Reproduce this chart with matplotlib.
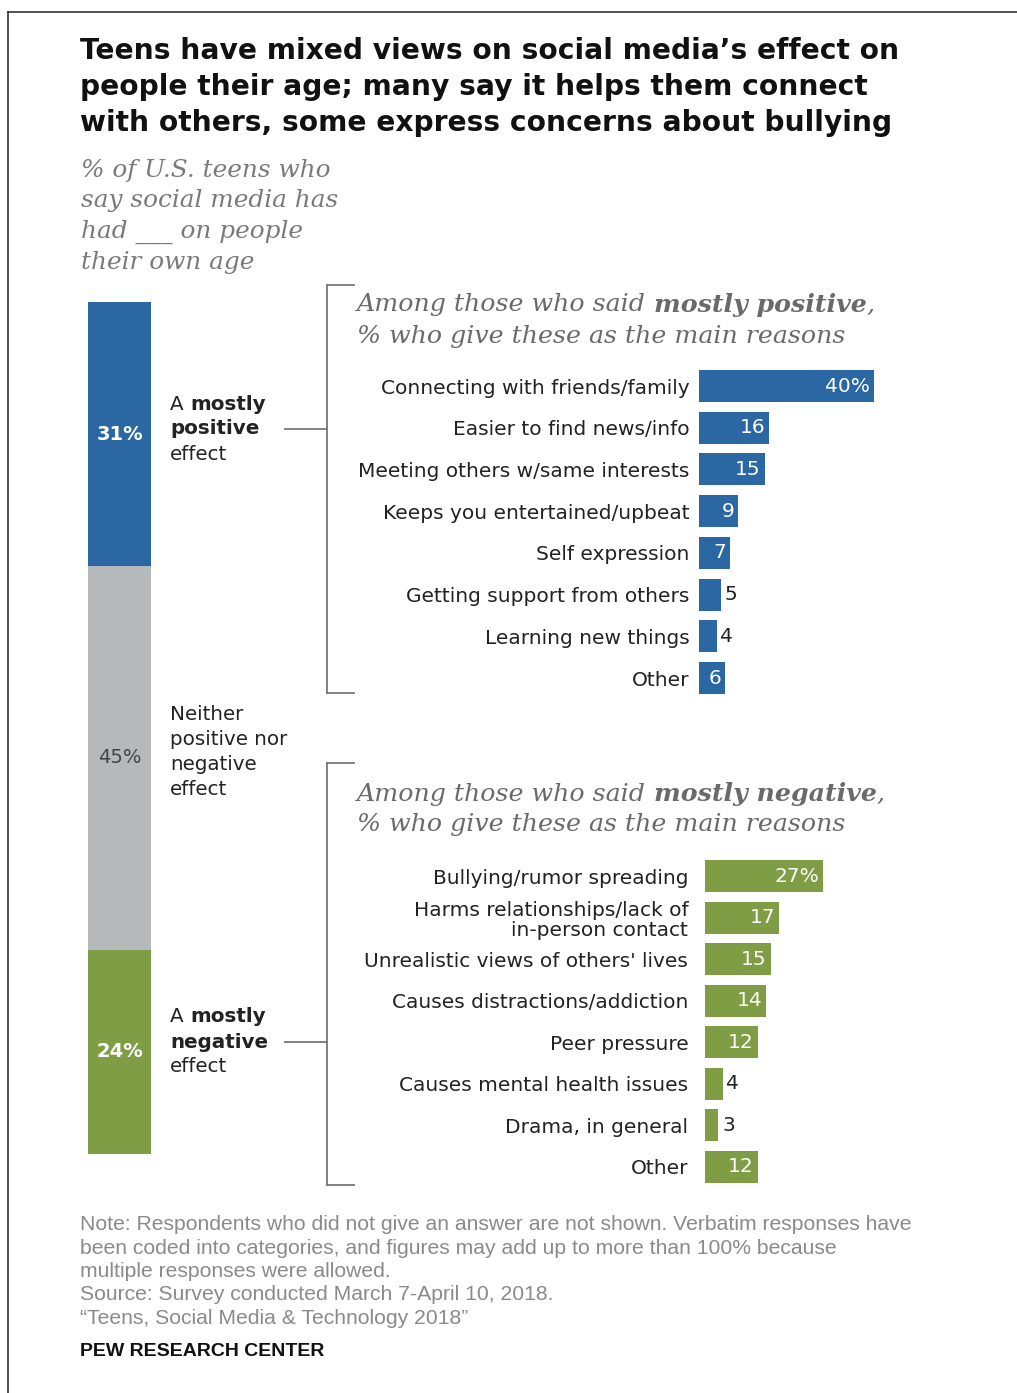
import matplotlib
matplotlib.use("Agg")
import matplotlib.pyplot as plt
from matplotlib.lines import Line2D

W, H = 1017, 1393
DPI = 100

# overall split of teens
effect_names = ["positive", "neither", "negative"]
effect_shares = [31, 45, 24]
effect_colors = ["#2a67a3", "#b6b9bb", "#7f9d44"]

# reasons among those saying mostly positive
pos_reasons = ["Connecting with friends/family", "Easier to find news/info",
               "Meeting others w/same interests", "Keeps you entertained/upbeat",
               "Self expression", "Getting support from others",
               "Learning new things", "Other"]
pos_values = [40, 16, 15, 9, 7, 5, 4, 6]

# reasons among those saying mostly negative
neg_reasons = ["Bullying/rumor spreading", "Harms relationships/lack of\nin-person contact",
               "Unrealistic views of others' lives", "Causes distractions/addiction",
               "Peer pressure", "Causes mental health issues",
               "Drama, in general", "Other"]
neg_values = [27, 17, 15, 14, 12, 4, 3, 12]

SANS = "DejaVu Sans"
SERIF = "DejaVu Serif"
NOTE_FONT = "Liberation Sans"
DARK = "#222222"

fig = plt.figure(figsize=(W / DPI, H / DPI), dpi=DPI)
fig.patch.set_facecolor("white")
renderer = fig.canvas.get_renderer()


def fx(x):
    return x / W


def fy(y):
    return 1 - y / H


def ptext(x, y, s, **kw):
    return fig.text(fx(x), fy(y), s, **kw)


def chain(x, y, parts, **kw):
    # draw consecutive pieces of text with different weights on one line
    for s, weight in parts:
        t = ptext(x, y, s, fontweight=weight, **kw)
        x += t.get_window_extent(renderer).width


def line(x0, y0, x1, y1, color="#777777", lw=1.3):
    fig.add_artist(Line2D([fx(x0), fx(x1)], [fy(y0), fy(y1)], color=color, lw=lw))


# frame
line(8, 12, W, 12, color="#333333", lw=1.2)
line(8, 12, 8, H, color="#333333", lw=1.2)

# title
title = ["Teens have mixed views on social media\u2019s effect on",
         "people their age; many say it helps them connect",
         "with others, some express concerns about bullying"]
for i, s in enumerate(title):
    ptext(80, 51 + 36 * i, s, family=SANS, fontweight="bold", fontsize=20.25,
          color="#111111", va="center")

subtitle = ["% of U.S. teens who", "say social media has",
            "had ___ on people", "their own age"]
for i, s in enumerate(subtitle):
    ptext(81, 170 + 31 * i, s, family=SERIF, style="italic", fontsize=17.8,
          color="#7a7a7a", va="center")

# stacked bar of the overall split
ax0 = fig.add_axes([fx(88), fy(1154), fx(151) - fx(88), fy(302) - fy(1154)])
bottom = 0
for name, v, c in zip(effect_names, effect_shares, effect_colors):
    ax0.bar(0, v, bottom=bottom, width=1, color=c, edgecolor="none")
    tc = "white" if name != "neither" else "#444444"
    fw = "bold" if name != "neither" else "normal"
    ax0.text(0, bottom + v / 2, f"{v}%", ha="center", va="center", color=tc,
             fontweight=fw, family=SANS, fontsize=14)
    bottom += v
ax0.set_xlim(-0.5, 0.5)
ax0.set_ylim(100, 0)
ax0.axis("off")

# labels beside the stacked bar
lab_kw = dict(family=SANS, fontsize=14.3, color=DARK, va="center")
chain(170, 404, [("A ", "normal"), ("mostly", "bold")], **lab_kw)
ptext(170, 429, "positive", fontweight="bold", **lab_kw)
ptext(170, 454, "effect", **lab_kw)
for i, s in enumerate(["Neither", "positive nor", "negative", "effect"]):
    ptext(170, 714 + 25.3 * i, s, **lab_kw)
chain(170, 1017, [("A ", "normal"), ("mostly", "bold")], **lab_kw)
ptext(170, 1042, "negative", fontweight="bold", **lab_kw)
ptext(170, 1067, "effect", **lab_kw)

# connectors and brackets
line(285, 429, 327, 429)
line(285, 1042, 327, 1042)
for top, bot in [(285, 693), (763, 1185)]:
    line(327, top, 327, bot)
    line(327, top, 354, top)
    line(327, bot, 354, bot)

head_kw = dict(family=SERIF, style="italic", fontsize=18.2, color="#6a6a6a", va="center")
chain(357, 305, [("Among those who said ", "normal"), ("mostly positive", "bold"),
                 (",", "normal")], **head_kw)
ptext(357, 336, "% who give these as the main reasons", **head_kw)
chain(357, 794, [("Among those who said ", "normal"), ("mostly negative", "bold"),
                 (",", "normal")], **head_kw)
ptext(357, 825, "% who give these as the main reasons", **head_kw)

PX_PER_UNIT = 175 / 40.0


def reason_panel(left, y_first, y_last, labels, values, color, pad):
    n = len(values)
    step = (y_last - y_first) / (n - 1)
    top = y_first - step / 2
    bot = y_last + step / 2
    width = 60 * PX_PER_UNIT
    ax = fig.add_axes([fx(left), fy(bot), width / W, (bot - top) / H])
    ax.barh(range(n), values, height=0.77, color=color, edgecolor="none")
    ax.set_xlim(0, 60)
    ax.set_ylim(n - 0.5, -0.5)
    ax.set_yticks(range(n))
    ax.set_yticklabels(labels, family=SANS, fontsize=14.5, color=DARK,
                       linespacing=1.08)
    ax.tick_params(axis="y", length=0, pad=pad)
    ax.set_xticks([])
    for sp in ax.spines.values():
        sp.set_visible(False)
    for i, v in enumerate(values):
        s = f"{v}%" if i == 0 else str(v)
        if v >= 6:
            ax.text(v - 0.9, i, s, ha="right", va="center", color="white",
                    family=SANS, fontsize=14.5)
        else:
            ax.text(v + 0.9, i, s, ha="left", va="center", color=DARK,
                    family=SANS, fontsize=14.5)
    return ax


reason_panel(699, 386, 678, pos_reasons, pos_values, effect_colors[0], 7)
reason_panel(705, 876, 1167, neg_reasons, neg_values, effect_colors[2], 12)

# notes
notes = ["Note: Respondents who did not give an answer are not shown. Verbatim responses have",
         "been coded into categories, and figures may add up to more than 100% because",
         "multiple responses were allowed.",
         "Source: Survey conducted March 7-April 10, 2018.",
         "\u201cTeens, Social Media & Technology 2018\u201d"]
for i, s in enumerate(notes):
    ptext(80, 1225 + 23.3 * i, s, family=NOTE_FONT, fontsize=15.2, color="#8a8a8a",
          va="center")
ptext(80, 1352, "PEW RESEARCH CENTER", family=NOTE_FONT, fontsize=14,
      fontweight="bold", color="#111111", va="center")

fig.savefig("out.png", dpi=DPI, facecolor="white")
